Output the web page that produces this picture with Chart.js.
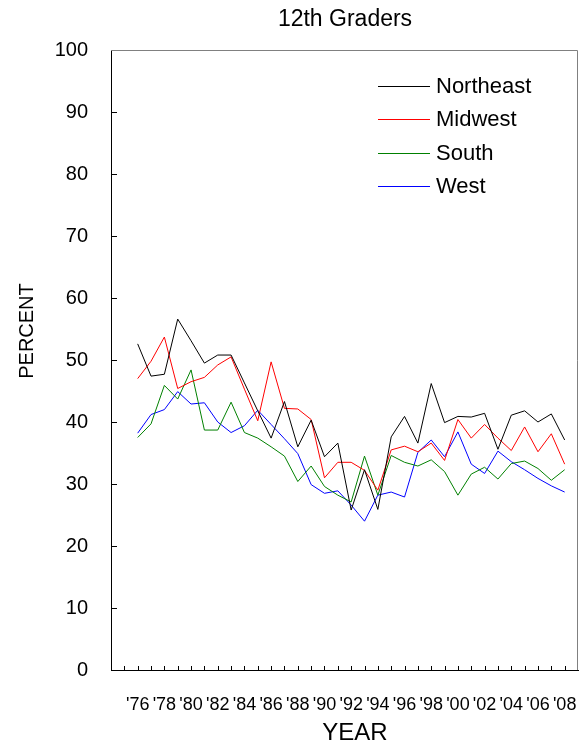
<!DOCTYPE html>
<html>
<head>
<meta charset="utf-8">
<script src="https://cdn.jsdelivr.net/npm/chart.js@4.4.1/dist/chart.umd.min.js"></script>
<style>
  html, body { margin: 0; padding: 0; background: #fff; }
</style>
</head>
<body>
<canvas id="chart" width="582" height="747"></canvas>
<script>
const years = [1976, 1977, 1978, 1979, 1980, 1981, 1982, 1983, 1984, 1985, 1986,
  1987, 1988, 1989, 1990, 1991, 1992, 1993, 1994, 1995, 1996, 1997, 1998, 1999,
  2000, 2001, 2002, 2003, 2004, 2005, 2006, 2007, 2008];
const tickYears = [1976, 1978, 1980, 1982, 1984, 1986, 1988, 1990, 1992, 1994,
  1996, 1998, 2000, 2002, 2004, 2006, 2008];

const northeast = [52.6, 47.4, 47.7, 56.6, 53.1, 49.5, 50.8, 50.8, 46.3, 41.8, 37.4,
  43.3, 36.0, 40.3, 34.4, 36.6, 25.8, 32.3, 25.9, 37.6, 40.9, 36.6, 46.2, 39.9,
  40.9, 40.8, 41.4, 35.6, 41.1, 41.8, 40.0, 41.3, 37.1];
const midwest = [47.0, 49.8, 53.7, 45.4, 46.5, 47.2, 49.2, 50.5, 45.3, 40.2, 49.7,
  42.2, 42.1, 40.4, 31.0, 33.5, 33.5, 32.2, 29.0, 35.5, 36.1, 35.2, 36.6, 33.8,
  40.4, 37.4, 39.6, 37.4, 35.4, 39.2, 35.2, 38.1, 33.2];
const south = [37.5, 39.7, 45.9, 43.7, 48.4, 38.7, 38.7, 43.2, 38.3, 37.4, 36.0,
  34.5, 30.4, 32.9, 29.6, 28.2, 27.1, 34.5, 28.2, 34.6, 33.5, 32.9, 33.9, 32.0,
  28.2, 31.6, 32.7, 30.8, 33.3, 33.7, 32.5, 30.6, 32.3];
const west = [38.2, 41.2, 42.0, 44.9, 42.9, 43.1, 40.0, 38.3, 39.4, 41.9, 39.6,
  37.3, 34.9, 29.9, 28.5, 28.9, 26.6, 24.0, 28.2, 28.7, 27.9, 35.1, 37.1, 34.4,
  38.4, 33.2, 31.7, 35.3, 33.6, 32.3, 30.9, 29.7, 28.7];

const series = [
  { label: "Northeast", values: northeast, color: "#000000" },
  { label: "Midwest", values: midwest, color: "#ff0000" },
  { label: "South", values: south, color: "#008000" },
  { label: "West", values: west, color: "#0000ff" },
];

const FONT = "Liberation Sans, Arial, sans-serif";

// frame, inside ticks, legend and titles
const extras = {
  id: "extras",
  afterDatasetsDraw(chart) {
    const { ctx, chartArea: a, scales: { x, y } } = chart;
    ctx.save();

    // top/right frame
    ctx.strokeStyle = "#808080";
    ctx.lineWidth = 1;
    ctx.beginPath();
    ctx.moveTo(a.left, a.top + 0.5);
    ctx.lineTo(a.right - 0.5, a.top + 0.5);
    ctx.lineTo(a.right - 0.5, a.bottom);
    ctx.stroke();

    // tick marks pointing inward
    ctx.strokeStyle = "#000";
    ctx.beginPath();
    for (let yr = x.min + 1; yr < x.max; yr++) {
      const px = Math.round(x.getPixelForValue(yr)) + 0.5;
      ctx.moveTo(px, a.bottom);
      ctx.lineTo(px, a.bottom - 4);
    }
    for (let v = 10; v < 100; v += 10) {
      const py = Math.round(y.getPixelForValue(v)) + 0.5;
      ctx.moveTo(a.left, py);
      ctx.lineTo(a.left + 6, py);
    }
    ctx.stroke();

    // legend
    ctx.font = "22px " + FONT;
    ctx.textBaseline = "middle";
    ctx.textAlign = "left";
    series.forEach((s, i) => {
      const ly = Math.round(86 + i * 33.4) + 0.5;
      ctx.beginPath();
      ctx.strokeStyle = s.color;
      ctx.moveTo(378, ly);
      ctx.lineTo(430, ly);
      ctx.stroke();
      ctx.fillStyle = "#000";
      ctx.fillText(s.label, 436, ly);
    });

    // titles
    ctx.fillStyle = "#000";
    ctx.textAlign = "center";
    ctx.font = "23px " + FONT;
    ctx.fillText("12th Graders", 345, 20);
    ctx.font = "24px " + FONT;
    ctx.fillText("YEAR", 355, 733);
    ctx.translate(27, 331);
    ctx.rotate(-Math.PI / 2);
    ctx.font = "20px " + FONT;
    ctx.fillText("PERCENT", 0, 0);
    ctx.restore();
  },
};

new Chart(document.getElementById("chart"), {
  type: "line",
  data: {
    datasets: series.map(s => ({
      label: s.label,
      data: years.map((yr, i) => ({ x: yr, y: s.values[i] })),
      borderColor: s.color,
      borderWidth: 1,
      pointRadius: 0,
      tension: 0,
      fill: false,
    })),
  },
  options: {
    responsive: false,
    animation: false,
    layout: { padding: { top: 50, right: 4, left: 0, bottom: 0 } },
    plugins: {
      legend: { display: false },
      title: { display: false },
      tooltip: { enabled: false },
    },
    scales: {
      x: {
        type: "linear",
        min: 1974,
        max: 2009,
        afterBuildTicks: scale => {
          scale.ticks = tickYears.map(v => ({ value: v }));
        },
        afterFit: scale => {
          scale.height = 77;
          scale.paddingLeft = 0;
          scale.paddingRight = 0;
        },
        grid: { drawOnChartArea: false, drawTicks: false },
        border: { display: true, color: "#000", width: 1 },
        ticks: {
          autoSkip: false,
          maxRotation: 0,
          padding: 24,
          color: "#000",
          font: { size: 18, family: FONT },
          callback: v => "'" + String(v).slice(2),
        },
      },
      y: {
        min: 0,
        max: 100,
        afterFit: scale => {
          scale.width = 111;
          scale.paddingTop = 0;
          scale.paddingBottom = 0;
        },
        grid: { drawOnChartArea: false, drawTicks: false },
        border: { display: true, color: "#000", width: 1 },
        ticks: {
          stepSize: 10,
          padding: 23,
          color: "#000",
          font: { size: 20, family: FONT },
        },
      },
    },
  },
  plugins: [extras],
});
</script>
</body>
</html>
